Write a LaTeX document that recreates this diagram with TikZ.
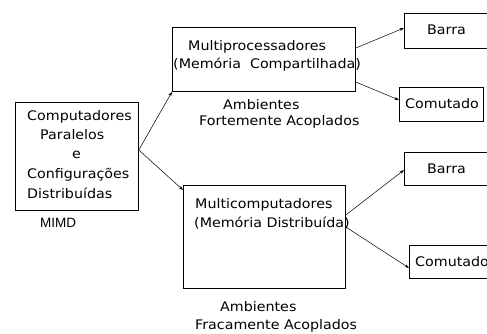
\documentclass[tikz,border=0pt]{standalone}
\usepackage{fontspec}
\setmainfont{DejaVu Sans}[FakeStretch=1.08]
\newfontfamily\labelfont{Liberation Sans}
\usetikzlibrary{arrows.meta}
\begin{document}
\begin{tikzpicture}[x=1pt,y=-1pt,
  box/.style={draw, line width=0.8pt, inner sep=0pt, anchor=north west},
  txt/.style={font=\fontsize{13.2}{15}\selectfont, inner sep=0pt, anchor=west},
  link/.style={line width=0.5pt, -{Stealth[length=4.5pt,width=3pt]}}]
\useasboundingbox (0,0) rectangle (487,333);
\clip (0,0) rectangle (487,333);
\fill[white] (0,0) rectangle (487,333);

% boxes
\node[box, minimum width=123pt, minimum height=108pt] (par) at (15,102) {};
\node[box, minimum width=183pt, minimum height=64pt] (mp) at (172,27) {};
\node[box, minimum width=162pt, minimum height=103pt] (mc) at (183,185) {};
\node[box, minimum width=95pt, minimum height=35pt] (b1) at (404,13) {};
\node[box, minimum width=84pt, minimum height=34pt] (c1) at (399,87) {};
\node[box, minimum width=95pt, minimum height=33pt] (b2) at (404,152) {};
\node[box, minimum width=90pt, minimum height=33pt] (c2) at (409,245) {};

% texts of the root box
\node[txt] (t1) at (27,117) {Computadores};
\node[txt] (t2) at (40,135) {Paralelos};
\node[txt] (t3) at (72,155) {e};
\node[txt] (t4) at (27,175) {Configurações};
\node[txt] (t5) at (27,193) {Distribuídas};
\node[anchor=west, inner sep=0pt, font=\labelfont\fontsize{13.5}{15}\selectfont] (mimd) at (40,223) {MIMD};

% shared memory branch
\node[txt] (t6) at (188,47) {Multiprocessadores};
\node[txt] (t7) at (173,65) {(Memória\ \ Compartilhada)};
\node[txt] (t8) at (223,105) {Ambientes};
\node[txt] (t9) at (199,122) {Fortemente Acoplados};

% distributed memory branch
\node[txt] (t10) at (195,205) {Multicomputadores};
\node[txt] (t11) at (194,223) {(Memória Distribuída)};
\node[txt] (t12) at (220,307) {Ambientes};
\node[txt] (t13) at (195,326) {Fracamente Acoplados};

% interconnects
\node[txt] (t14) at (427,30) {Barra};
\node[txt] (t15) at (405,104) {Comutado};
\node[txt] (t16) at (427,169) {Barra};
\node[txt] (t17) at (415,262) {Comutado};

% connectors
\draw[link] (par.east |- 0,150) -- (mp.south west);
\draw[link] (par.east |- 0,150) -- (mc.north west |- 0,190);
\draw[link] (mp.east |- 0,48) -- (b1.west |- 0,28);
\draw[link] (mp.east |- 0,82) -- (c1.west |- 0,100);
\draw[link] (mc.east |- 0,215) -- (b2.west |- 0,170);
\draw[link] (mc.east |- 0,227) -- (c2.west |- 0,268);
\end{tikzpicture}
\end{document}
